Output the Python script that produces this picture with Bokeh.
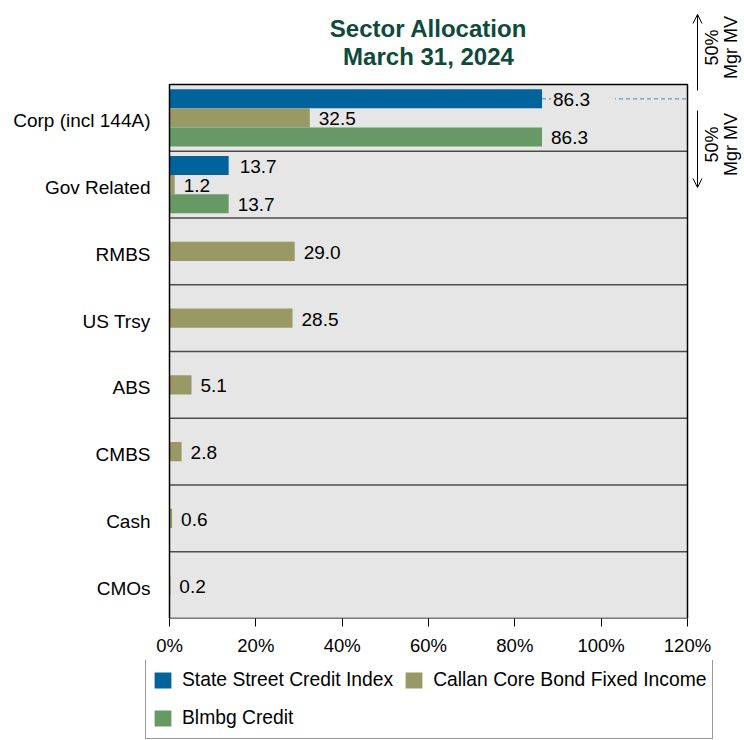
from math import pi
from bokeh.plotting import figure
from bokeh.layouts import column
from bokeh.models import (Range1d, Legend, LegendItem, Label, Arrow,
                          OpenHead, ColumnDataSource, FixedTicker, PrintfTickFormatter)
from bokeh.transform import dodge
from bokeh.embed import file_html
from bokeh.resources import INLINE
from bokeh.core.properties import value

# ---------------- data ----------------
categories = ["Corp (incl 144A)", "Gov Related", "RMBS", "US Trsy", "ABS", "CMBS", "Cash", "CMOs"]
callan = [32.5, 1.2, 29.0, 28.5, 5.1, 2.8, 0.6, 0.2]
index_categories = ["Corp (incl 144A)", "Gov Related"]
state_street = [86.3, 13.7]
blmbg = [86.3, 13.7]
x_ticks = [0, 20, 40, 60, 80, 100, 120]
series_names = ["State Street Credit Index", "Callan Core Bond Fixed Income", "Blmbg Credit"]
title_lines = ["Sector Allocation", "March 31, 2024"]
side_note = "50%\nMgr MV"

# ---------------- layout helpers (page pixels -> data units) ----------------
W, H_MAIN, H_LEG = 744, 660, 80
BOX_L, BOX_R, BOX_T, BOX_B = 169, 687, 84, 618   # plotting box in page px
N = len(categories)
X0, X1 = x_ticks[0], x_ticks[-1]
ROW = (BOX_B - BOX_T) / N


def dx(px):
    return X0 + (px - BOX_L) / (BOX_R - BOX_L) * (X1 - X0)


def dy(py):
    return N - (py - BOX_T) / ROW


pos = {c: N - i - 0.5 for i, c in enumerate(categories)}

# ---------------- style ----------------
FONT = "Liberation Sans"
BLUE = "#00639b"
OLIVE = "#999966"
GREEN = "#669966"
BG = "#e6e6e6"
TITLE_COLOR = "#0e4a3a"
BAR_H = 0.285
colors = [BLUE, OLIVE, GREEN]

p = figure(width=W, height=H_MAIN,
           x_range=Range1d(dx(0), dx(W)), y_range=Range1d(0, dy(0)),
           y_axis_type=None,
           output_backend="svg", toolbar_location=None,
           min_border_left=0, min_border_right=0,
           min_border_top=0, min_border_bottom=H_MAIN - BOX_B)

p.background_fill_color = "white"
p.border_fill_color = "white"
p.outline_line_color = None
p.xgrid.grid_line_color = None
p.ygrid.grid_line_color = None

# x axis
p.xaxis.ticker = FixedTicker(ticks=x_ticks)
p.xaxis.formatter = PrintfTickFormatter(format="%d%%")
p.xaxis.axis_line_color = None
p.xaxis.major_tick_in = 0
p.xaxis.major_tick_out = 8
p.xaxis.major_tick_line_color = "black"
p.xaxis.minor_tick_line_color = None
p.xaxis.major_label_standoff = 8
p.xaxis.major_label_text_font = FONT
p.xaxis.major_label_text_font_size = "18.5px"
p.xaxis.major_label_text_color = "black"

# plot box background
p.quad(left=X0, right=X1, bottom=0, top=N, fill_color=BG, line_color=None)
# category separators
seps = list(range(1, N))
p.segment(x0=[X0] * len(seps), x1=[X1] * len(seps), y0=seps, y1=seps,
          line_color="#4d4d4d", line_width=1.5)

# category labels (left of the box)
src_cat = ColumnDataSource(dict(y=[pos[c] for c in categories], x=[X0] * N, lab=categories))
p.text(x="x", y="y", text="lab", source=src_cat, x_offset=-19, y_offset=3,
       text_align="right", text_baseline="middle", text_font=value(FONT),
       text_font_size="19px", text_color="black")

# sources
src_callan = ColumnDataSource(dict(y=[pos[c] for c in categories], val=callan,
                                   lab=[f"{v:.1f}" for v in callan]))
src_ss = ColumnDataSource(dict(y=[pos[c] for c in index_categories], val=state_street,
                               lab=[f"{v:.1f}" for v in state_street]))
src_bb = ColumnDataSource(dict(y=[pos[c] for c in index_categories], val=blmbg,
                               lab=[f"{v:.1f}" for v in blmbg]))

p.hbar(y=dodge("y", BAR_H), left=0, right="val", height=BAR_H,
       source=src_ss, fill_color=BLUE, line_color=None)
p.hbar(y="y", left=0, right="val", height=BAR_H,
       source=src_callan, fill_color=OLIVE, line_color=None)
p.hbar(y=dodge("y", -BAR_H), left=0, right="val", height=BAR_H,
       source=src_bb, fill_color=GREEN, line_color=None)

# plot box outline on top of bars
p.quad(left=X0, right=X1, bottom=0, top=N, fill_color=None, line_color="black", line_width=1.5)

# dashed reference line from the top State Street bar to the right edge
src_ref = ColumnDataSource(dict(y=[pos[index_categories[0]]], x0=[state_street[0]], x1=[X1]))
p.segment(x0="x0", x1="x1", y0=dodge("y", BAR_H), y1=dodge("y", BAR_H), source=src_ref,
          line_color="#3a8fc8", line_dash="4 3", line_width=1)

label_kw = dict(text="lab", x="val", x_offset=9, y_offset=1, text_baseline="middle",
                text_align="left", text_font=value(FONT), text_font_size="19px",
                text_color="black")
p.text(y=dodge("y", BAR_H), source=src_ss,
       background_fill_color=BG, padding=(2, 25, 0, 0), **label_kw)
p.text(y="y", source=src_callan, **label_kw)
p.text(y=dodge("y", -BAR_H), source=src_bb, **label_kw)

# title
for line, cy in zip(title_lines, (28, 56)):
    p.add_layout(Label(x=dx((BOX_L + BOX_R) / 2), y=dy(cy), text=line,
                       text_align="center", text_baseline="middle",
                       text_font=FONT, text_font_size="24px", text_font_style="bold",
                       text_color=TITLE_COLOR))

# right-side annotation
p.add_layout(Arrow(end=OpenHead(size=9, line_width=1, line_color="black"),
                   x_start=dx(697), y_start=dy(90), x_end=dx(697), y_end=dy(14),
                   line_width=1, line_color="black"))
p.add_layout(Arrow(end=OpenHead(size=9, line_width=1, line_color="black"),
                   x_start=dx(697), y_start=dy(110), x_end=dx(697), y_end=dy(187),
                   line_width=1, line_color="black"))
for cy in (47, 144):
    p.add_layout(Label(x=dx(721), y=dy(cy), text=side_note, angle=pi / 2,
                       text_align="center", text_baseline="middle",
                       text_line_height=0.95,
                       text_font=FONT, text_font_size="18px", text_color="black"))

# ---------------- legend strip ----------------
lf = figure(width=W, height=H_LEG, x_range=Range1d(0, W), y_range=Range1d(0, H_LEG),
            output_backend="svg", toolbar_location=None,
            x_axis_type=None, y_axis_type=None,
            min_border_left=0, min_border_right=0, min_border_top=0, min_border_bottom=0)
lf.outline_line_color = None
lf.xgrid.grid_line_color = None
lf.ygrid.grid_line_color = None
# zero-size swatch renderers, only used to draw the legend glyphs
swatches = [lf.hbar(y=[0], left=[0], right=[0], height=0, fill_color=c, line_color=None)
            for c in colors]

legend = Legend(items=[LegendItem(label=name, renderers=[r])
                       for name, r in zip(series_names, swatches)],
                ncols=2, orientation="horizontal",
                location=(145, 1),
                glyph_width=21, glyph_height=20, label_standoff=9,
                label_width=203, label_height=28, spacing=10, padding=6, margin=0,
                label_text_font=FONT, label_text_font_size="19.3px",
                label_text_color="black",
                border_line_color="#333333", border_line_width=1,
                background_fill_color="white", background_fill_alpha=1)
lf.add_layout(legend, "center")

layout = column(p, lf, spacing=0)
open("out.html", "w").write(file_html(layout, INLINE))
